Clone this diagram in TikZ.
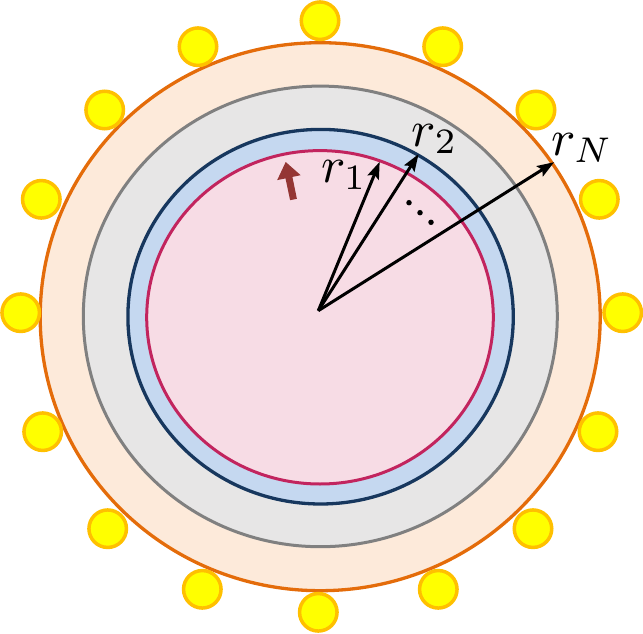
\documentclass[tikz,border=0pt]{standalone}
\usepackage{graphicx}
\usetikzlibrary{arrows.meta}
\definecolor{oS}{RGB}{228,108,10}
\definecolor{oF}{RGB}{253,234,218}
\definecolor{gS}{RGB}{128,128,128}
\definecolor{gF}{RGB}{231,230,230}
\definecolor{nS}{RGB}{23,55,94}
\definecolor{nF}{RGB}{197,216,240}
\definecolor{mS}{RGB}{194,36,94}
\definecolor{mF}{RGB}{247,220,229}
\definecolor{yF}{RGB}{255,255,0}
\definecolor{yS}{RGB}{255,192,0}
\definecolor{brn}{RGB}{148,54,52}
\newcommand{\biglab}[1]{\scalebox{5.1}{$#1$}}
\tikzset{
  dotball/.style={circle,draw=yS,fill=yF,line width=3.5pt,minimum size=37.5pt,inner sep=0pt},
  radius arrow/.style={line width=3pt,-{Stealth[length=17pt,width=12pt,inset=3pt]},shorten >=-1pt},
  rlabel/.style={inner sep=0pt},
  smalldot/.style={circle,fill=black,minimum size=5.5pt,inner sep=0pt}
}
\begin{document}
\begin{tikzpicture}[x=1pt,y=-1pt]
\useasboundingbox (0,0) rectangle (643,634);
% layers
\draw[draw=oS,fill=oF,line width=3.3pt] (320.2,316.7) ellipse [x radius=280,y radius=274];
\draw[draw=gS,fill=gF,line width=3pt] (320.3,316.4) ellipse [x radius=237,y radius=230.3];
\draw[draw=nS,fill=nF,line width=3.3pt] (320.6,316.7) ellipse [x radius=192.7,y radius=187.3];
\draw[draw=mS,fill=mF,line width=3pt] (320,317.3) ellipse [x radius=173.3,y radius=166.7];
% dots
\foreach \x/\y [count=\i] in {320/20.7,442.7/46.7,536/110,599.3/199.3,622.7/312.7,598/431.7,533/528.7,438.3/589.3,318.3/612.3,202.3/589.3,107.7/528.7,42.7/431.7,20.7/312.7,41.3/199.3,104.7/110,198/46.7}
  \node[dotball] (d\i) at (\x,\y) {};
% brown arrow
\fill[brn] (285.7,162) -- (300.7,175.2) -- (292.4,176.9) -- (296.9,198.8) -- (290.1,200.2) -- (285.5,178.4) -- (277.2,180.1) -- cycle;
% radius arrows
\coordinate (c) at (318.3,310.7);
\coordinate (t1) at (379.3,162.7);
\coordinate (t2) at (418,155);
\coordinate (tN) at (553.3,162.7);
\draw[radius arrow] (c) -- (t1);
\draw[radius arrow] (c) -- (t2);
\draw[radius arrow] (c) -- (tN);
% labels
\node[rlabel] (l1) at (344,175) {\biglab{r_1}};
\node[rlabel] (l2) at (434.7,139) {\biglab{r_2}};
\node[rlabel] (lN) at (582,148) {\biglab{r_N}};
% ellipsis dots
\node[smalldot] (e1) at (409,202.7) {};
\node[smalldot] (e2) at (420,212.7) {};
\node[smalldot] (e3) at (431,222.3) {};
\end{tikzpicture}
\end{document}
